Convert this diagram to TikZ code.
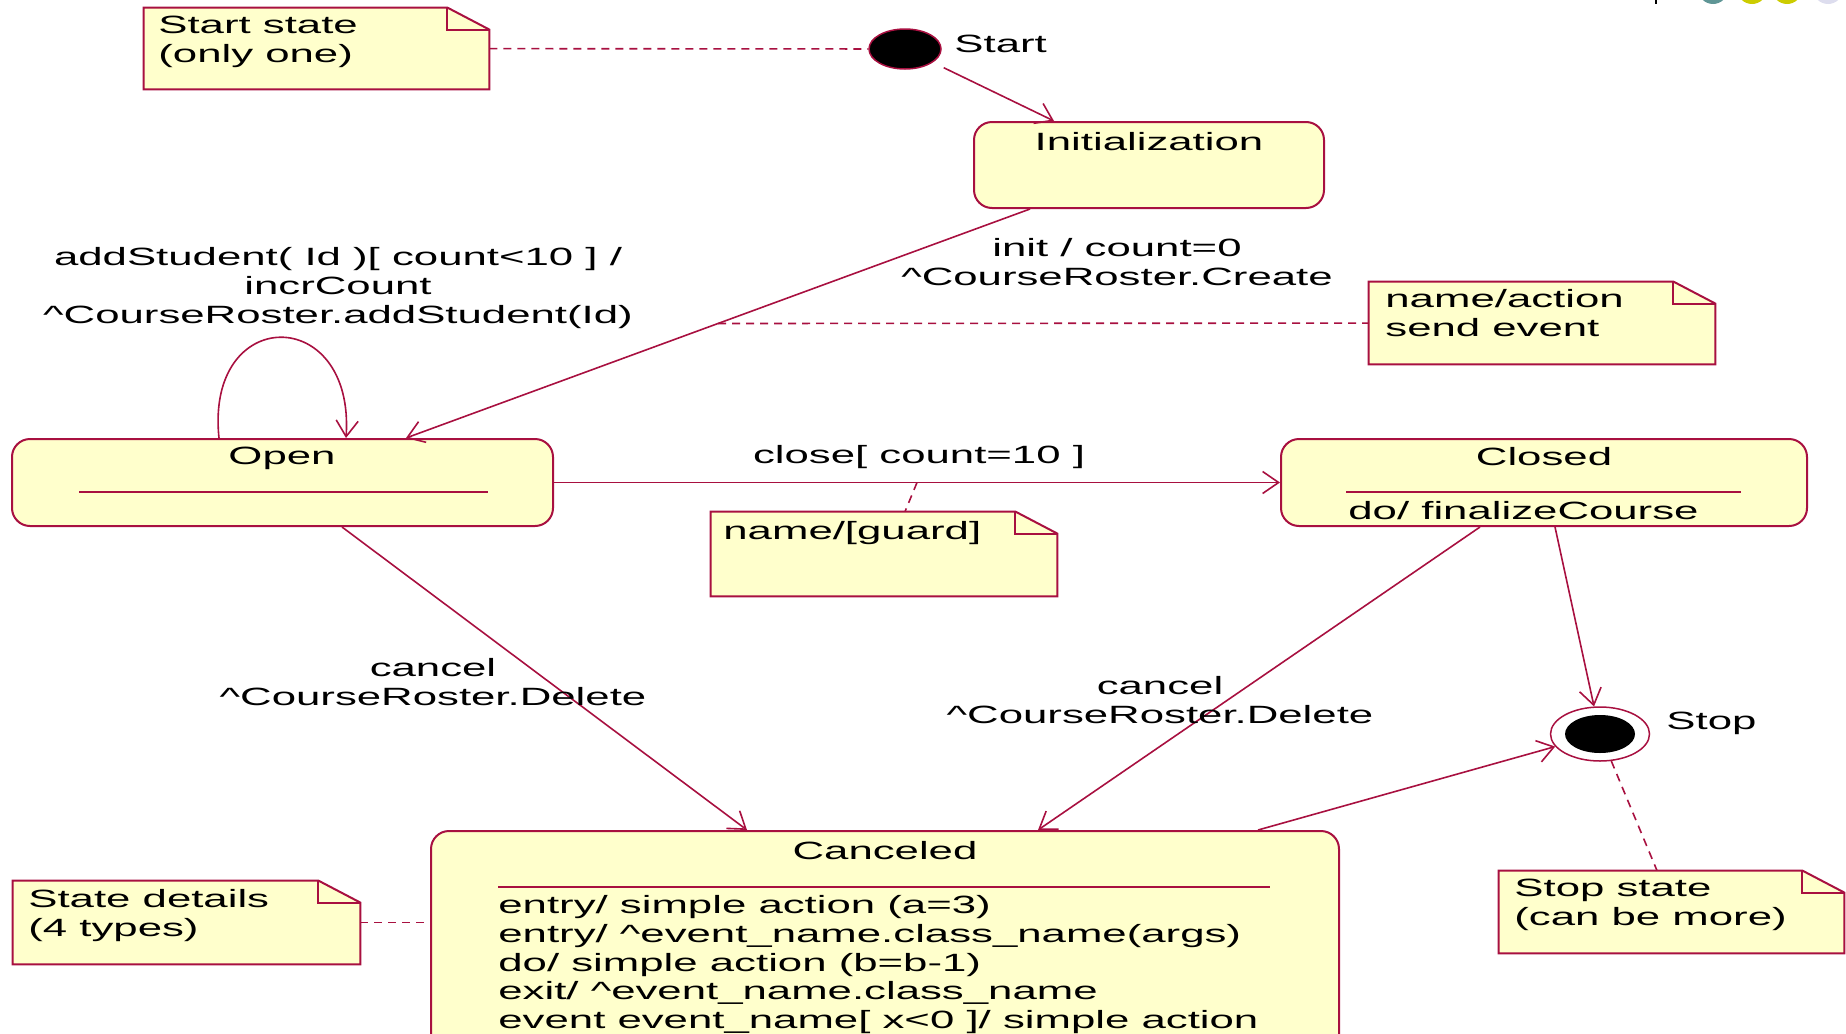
\documentclass[tikz,border=0pt]{standalone}
\usepackage{fontspec}
\setmainfont{Liberation Sans}[FakeStretch=1.75]
\usetikzlibrary{arrows.meta,fit,shapes.geometric}
\definecolor{rose}{RGB}{168,16,64}
\definecolor{notefill}{RGB}{255,255,204}
\definecolor{dotteal}{RGB}{95,150,150}
\definecolor{dotyellow}{RGB}{204,204,0}
\definecolor{dotlilac}{RGB}{221,221,238}

\begin{document}
\begin{tikzpicture}[x=0.5pt, y=-0.5pt,
        txt/.style={inner sep=0pt, font=\fontsize{12.5}{14.4}\selectfont, text=black},
        state/.style={draw=rose, line width=1pt, fill=notefill, rounded corners=9pt, inner sep=0pt},
        notebox/.style={draw=rose, line width=1pt, fill=notefill},
        trans/.style={draw=rose, line width=0.8pt, -{Straight Barb[length=8pt,width=11pt]}},
        noteline/.style={draw=rose, line width=0.8pt, dash pattern=on 4pt off 3pt},
        sep/.style={draw=rose, line width=0.8pt}]

            % the frame
            \useasboundingbox (0,0) rectangle (1846,1033);
            \clip (0,0) rectangle (1846,1033);
            \fill[black] (1655,0) rectangle (1657,4);
            \fill[dotteal] (1713,-11) circle[radius=15];
            \fill[dotyellow] (1752,-11) circle[radius=15];
            \fill[dotyellow] (1787,-11) circle[radius=15];
            \fill[dotlilac] (1828,-11) circle[radius=15];

            % the states
            \node[state, fit={(974,122) (1324,208)}] (init) {};
            \node[state, fit={(12,439) (553,526)}] (open) {};
            \node[state, fit={(1281,439) (1807,526)}] (closed) {};
            \node[state, fit={(431,831) (1339,1080)}] (canceled) {};
            \node[ellipse, draw=rose, line width=0.75pt, fill=black, minimum width=36pt, minimum height=20pt, inner sep=0pt] (start) at (905,49) {};
            \node[ellipse, draw=rose, line width=0.75pt, fill=white, minimum width=49.5pt, minimum height=27pt, inner sep=0pt] (stop) at (1600,734) {};
            \node[ellipse, fill=black, minimum width=35pt, minimum height=19pt, inner sep=0pt] (stopdot) at (stop) {};

            \node[txt, anchor=north] (init-t) at (1149,132) {Initialization};
            \node[txt, anchor=north] (open-t) at (282,447) {Open};
            \draw[sep] (79,492) -- (488,492);
            \node[txt, anchor=north] (closed-t) at (1544,447) {Closed};
            \draw[sep] (1346,492) -- (1741,492);
            \node[txt, anchor=north west] (closed-do) at (1348,501) {do/ finalizeCourse};
            \node[txt, anchor=north] (canceled-t) at (885,841) {Canceled};
            \draw[sep] (498,887) -- (1270,887);
            \node[txt, anchor=north west, align=left] (canceled-do) at (498,895) {entry/ simple action (a=3)\\
                entry/ \textasciicircum event\_name.class\_name(args)\\
                do/ simple action (b=b-1)\\
                exit/ \textasciicircum event\_name.class\_name\\
                event event\_name[ x<0 ]/ simple action};
            \node[txt, anchor=north west] (start-t) at (954,35) {Start};
            \node[txt, anchor=north west] (stop-t) at (1666,712) {Stop};

            % the transitions
            \draw[trans, shorten <=6pt] (start) -- (init.north -| 1054,0);
            \draw[trans] (init.south -| 1030,0) -- coordinate[pos=0.5] (initmid) (open.north -| 406,0);
            \draw[trans] (open.north -| 219,0) .. controls +(-14,-134) and +(9,-134) .. (open.north -| 346,0);
            \draw[trans] (open) -- coordinate[pos=0.5] (closemid) (closed);
            \draw[trans] (open.south -| 342,0) -- (canceled.north -| 747,0);
            \draw[trans] (closed.south -| 1480,0) -- (canceled.north -| 1038,0);
            \draw[trans] (closed.south -| 1555,0) -- (stop);
            \draw[trans] (canceled.north -| 1258,0) -- (stop);

            \node[txt, anchor=north, align=center] (init-l) at (1117,238) {init / count=0\\\textasciicircum CourseRoster.Create};
            \node[txt, anchor=north, align=center] (loop-l) at (338,247) {addStudent( Id )[ count<10 ] /\\incrCount\\\textasciicircum CourseRoster.addStudent(Id)};
            \node[txt, anchor=north] (close-l) at (919,445) {close[ count=10 ]};
            \node[txt, anchor=north, align=center] (cancelopen-l) at (433,658) {cancel\\\textasciicircum CourseRoster.Delete};
            \node[txt, anchor=north, align=center] (cancelclosed-l) at (1160,676) {cancel\\\textasciicircum CourseRoster.Delete};

            % the notes
            \node[fit={(144,8) (489,89)}, inner sep=0pt] (startnote) {};
            \node[fit={(1369,282) (1715,364)}, inner sep=0pt] (actionnote) {};
            \node[fit={(711,512) (1057,596)}, inner sep=0pt] (guardnote) {};
            \node[fit={(13,881) (360,964)}, inner sep=0pt] (detailnote) {};
            \node[fit={(1499,871) (1844,953)}, inner sep=0pt] (stopnote) {};
            \foreach \n in {startnote, actionnote, guardnote, detailnote, stopnote} {
                \draw[notebox] (\n.south west) -- (\n.north west) -- ([xshift=-21pt]\n.north east)
                    -- ([yshift=-11pt]\n.north east) -- (\n.south east) -- cycle;
                \draw[notebox, fill=none] ([xshift=-21pt]\n.north east) |- ([yshift=-11pt]\n.north east);
            }
            \node[txt, anchor=north west, align=left] (startnote-t) at (158,16) {Start state\\(only one)};
            \node[txt, anchor=north west, align=left] (actionnote-t) at (1385,289) {name/action\\send event};
            \node[txt, anchor=north west] (guardnote-t) at (723,521) {name/[guard]};
            \node[txt, anchor=north west, align=left] (detailnote-t) at (28,889) {State details\\(4 types)};
            \node[txt, anchor=north west, align=left] (stopnote-t) at (1514,879) {Stop state\\(can be more)};

            \draw[noteline] (startnote) -- (start);
            \draw[noteline] (initmid) -- (actionnote);
            \draw[noteline] (closemid) -- (guardnote.north -| 905,0);
            \draw[noteline] (detailnote.east) -- (detailnote.east -| canceled.west);
            \draw[noteline] (stop) -- (stopnote.north -| 1657,0);
        \end{tikzpicture}
\end{document}
